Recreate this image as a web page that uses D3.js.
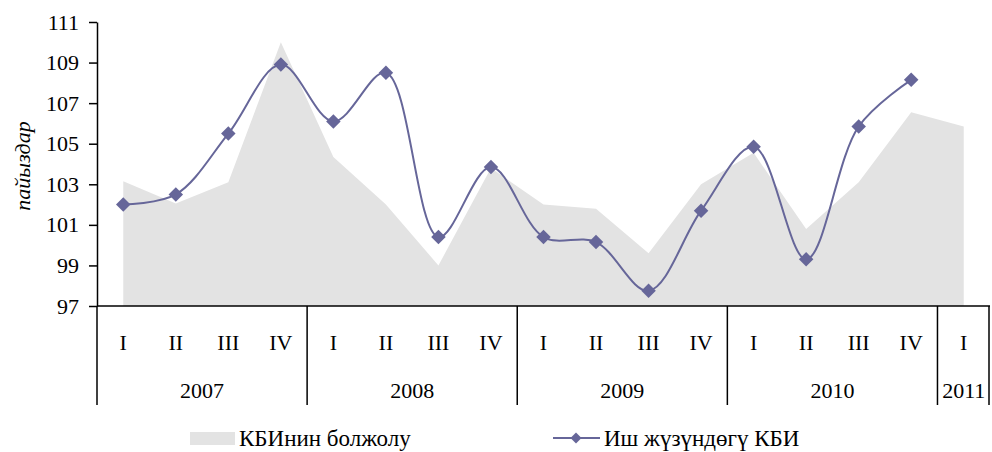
<!DOCTYPE html>
<html>
<head>
<meta charset="utf-8">
<script src="https://cdn.jsdelivr.net/npm/d3@7"></script>
<style>
  body { margin: 0; background: #fff; }
  svg text { font-family: "Liberation Serif", "DejaVu Serif", serif; }
</style>
</head>
<body>
<svg id="chart"></svg>
<script>
// data
const quarters = ["I", "II", "III", "IV", "I", "II", "III", "IV", "I", "II", "III", "IV", "I", "II", "III", "IV", "I"];
const yearLabels = ["2007", "2008", "2009", "2010", "2011"];
const yearQuarters = [4, 4, 4, 4, 1];
const forecast = [103.15, 102.05, 103.1, 110.0, 104.35, 102.0, 99.0, 103.8, 102.0, 101.8, 99.6, 103.0, 104.55, 100.8, 103.1, 106.55, 105.85];
const actual = [102.0, 102.5, 105.5, 108.9, 106.1, 108.5, 100.4, 103.85, 100.4, 100.15, 97.75, 101.7, 104.85, 99.3, 105.85, 108.15, null];
const yTicks = [97, 99, 101, 103, 105, 107, 109, 111];
const seriesNames = ["КБИнин болжолу", "Иш жүзүндөгү КБИ"];

const width = 992;
const height = 452;
const areaColor = "#e3e3e3";
const lineColor = "#666699";
const serif = "'Liberation Serif', 'DejaVu Serif', serif";

const svg = d3.select("#chart").attr("width", width).attr("height", height);

const x = d3.scaleBand().domain(d3.range(quarters.length)).range([97, 990]);
const y = d3.scaleLinear().domain([97, 111]).range([306, 22]);
const cx = i => x(i) + x.bandwidth() / 2;

// forecast area
svg.append("path")
  .datum(forecast)
  .attr("fill", areaColor)
  .attr("d", d3.area().x((d, i) => cx(i)).y0(y(97)).y1(d => y(d)));

// actual line, smoothed
const pts = actual.map((v, i) => ({ i, v })).filter(d => d.v != null);
svg.append("path")
  .datum(pts)
  .attr("fill", "none")
  .attr("stroke", lineColor)
  .attr("stroke-width", 2)
  .attr("d", d3.line().x(d => cx(d.i)).y(d => y(d.v)).curve(d3.curveCatmullRom.alpha(0.5)));

const diamond = d3.symbol().type(d3.symbolSquare).size(105);
svg.selectAll(".pt")
  .data(pts)
  .join("path")
  .attr("class", "pt")
  .attr("d", diamond)
  .attr("fill", lineColor)
  .attr("transform", d => `translate(${cx(d.i)},${y(d.v)}) rotate(45)`);

// y axis
const yAxis = svg.append("g")
  .attr("transform", "translate(97,0)")
  .call(d3.axisLeft(y).tickValues(yTicks).tickSize(8).tickPadding(10).tickSizeOuter(0))
  .attr("font-family", serif)
  .attr("font-size", 22);
yAxis.select(".domain").attr("stroke", "#000").attr("stroke-width", 1.5);
yAxis.selectAll(".tick line").attr("stroke", "#000").attr("stroke-width", 1.5);
yAxis.selectAll("text").attr("fill", "#000");

svg.append("text")
  .attr("transform", "translate(30,166) rotate(-90)")
  .attr("text-anchor", "middle")
  .attr("font-family", serif)
  .attr("font-size", 22)
  .attr("font-style", "italic")
  .text("пайыздар");

// x axis: quarter labels with year groups
const xAxis = svg.append("g").attr("font-family", serif).attr("font-size", 22);
xAxis.append("line")
  .attr("x1", 97).attr("x2", 990)
  .attr("y1", 306).attr("y2", 306)
  .attr("stroke", "#000").attr("stroke-width", 1.5);

xAxis.selectAll(".q")
  .data(quarters)
  .join("text")
  .attr("class", "q")
  .attr("x", (d, i) => cx(i))
  .attr("y", 350)
  .attr("text-anchor", "middle")
  .text(d => d);

const starts = yearQuarters.map((n, k) => d3.sum(yearQuarters.slice(0, k)));
const bounds = starts.concat([quarters.length]);
xAxis.selectAll(".sep")
  .data(bounds)
  .join("line")
  .attr("class", "sep")
  .attr("x1", d => d === quarters.length ? x.range()[1] - 1 : x(d))
  .attr("x2", d => d === quarters.length ? x.range()[1] - 1 : x(d))
  .attr("y1", 306).attr("y2", 405)
  .attr("stroke", "#000").attr("stroke-width", 1.5);

xAxis.selectAll(".yr")
  .data(yearLabels)
  .join("text")
  .attr("class", "yr")
  .attr("x", (d, k) => (x(starts[k]) + (starts[k] + yearQuarters[k] < quarters.length ? x(starts[k] + yearQuarters[k]) : x.range()[1])) / 2)
  .attr("y", 398)
  .attr("text-anchor", "middle")
  .text(d => d);

// legend
const legend = svg.append("g").attr("font-family", serif).attr("font-size", 23);
legend.append("rect")
  .attr("x", 190).attr("y", 432).attr("width", 45).attr("height", 13)
  .attr("fill", areaColor);
legend.append("text")
  .attr("x", 239).attr("y", 446)
  .text(seriesNames[0]);
legend.append("line")
  .attr("x1", 553).attr("x2", 600).attr("y1", 438).attr("y2", 438)
  .attr("stroke", lineColor).attr("stroke-width", 2);
legend.append("path")
  .attr("d", d3.symbol().type(d3.symbolSquare).size(60))
  .attr("fill", lineColor)
  .attr("transform", "translate(576,438) rotate(45)");
legend.append("text")
  .attr("x", 604).attr("y", 446)
  .text(seriesNames[1]);
</script>
</body>
</html>
